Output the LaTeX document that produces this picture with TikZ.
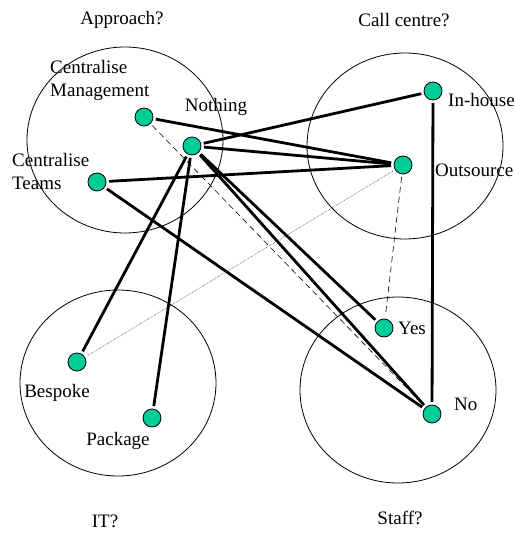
\documentclass[tikz,border=0pt]{standalone}
\usepackage{fontspec}
\setmainfont{Liberation Serif}
\usepackage{tikz}
\definecolor{dotgreen}{HTML}{00CC99}

\tikzset{
	choice/.style={circle,draw,fill=dotgreen,minimum size=18pt,inner sep=0pt,outer sep=3pt,line width=.8pt},
	lbl/.style={inner sep=0pt,font=\fontsize{19}{23}\selectfont},
	link/.style={line width=2.8pt},
	weak/.style={line width=.6pt,dash pattern=on 6pt off 4pt},
	faint/.style={line width=.6pt,densely dotted,black!70}
}

\begin{document}
\begin{tikzpicture}[x=1pt,y=-1pt]
			\useasboundingbox (0,0) rectangle (514,534);
			% the four questions
			\draw[line width=.8pt] (125,140) ellipse [x radius=98,y radius=93];
			\draw[line width=.8pt] (405,146) ellipse [x radius=98,y radius=93];
			\draw[line width=.8pt] (118,383) ellipse [x radius=98,y radius=93];
			\draw[line width=.8pt] (398,390) ellipse [x radius=98,y radius=93];
			\node[lbl] (approach) at (122,20) {Approach?};
			\node[lbl] (callcentre) at (404,20) {Call centre?};
			\node[lbl] (it) at (105,521) {IT?};
			\node[lbl] (staff) at (400,518) {Staff?};
			
			% options
			\node[choice] (cm) at (144,117) {};
			\node[choice] (nothing) at (192,146) {};
			\node[choice] (teams) at (97,182) {};
			\node[choice] (inhouse) at (433,91) {};
			\node[choice] (outsource) at (403,165) {};
			\node[choice] (bespoke) at (77,362) {};
			\node[choice] (package) at (152,418) {};
			\node[choice] (yes) at (384,328) {};
			\node[choice] (no) at (432,414) {};
			\node[lbl,align=left,anchor=west] (cmtext) at (50,80) {Centralise\\Management};
			\node[lbl] (nothingtext) at (216,107) {Nothing};
			\node[lbl,align=left,anchor=west] (teamstext) at (12,172) {Centralise\\Teams};
			\node[lbl,anchor=west] (inhousetext) at (448,100) {In-house};
			\node[lbl,anchor=west] (outsourcetext) at (435,170) {Outsource};
			\node[lbl] (bespoketext) at (57,393) {Bespoke};
			\node[lbl] (packagetext) at (118,441) {Package};
			\node[lbl,anchor=west] (yestext) at (398,328) {Yes};
			\node[lbl,anchor=west] (notext) at (454,404) {No};
			
			% links
			\draw[link] (cm) -- (outsource);
			\draw[link] (nothing) -- (inhouse);
			\draw[link] (nothing) -- (outsource);
			\draw[link] (teams) -- (outsource);
			\draw[link] (teams) -- (no);
			\draw[link] (nothing) -- (bespoke);
			\draw[link] (nothing) -- (package);
			\draw[link] (nothing) -- (yes);
			\draw[link] (nothing) -- (no);
			\draw[link] (inhouse) -- (no);
			\draw[weak] (cm) -- (no);
			\draw[weak] (outsource) -- (yes);
			\draw[faint] (outsource) -- (bespoke);
		\end{tikzpicture}
\end{document}
